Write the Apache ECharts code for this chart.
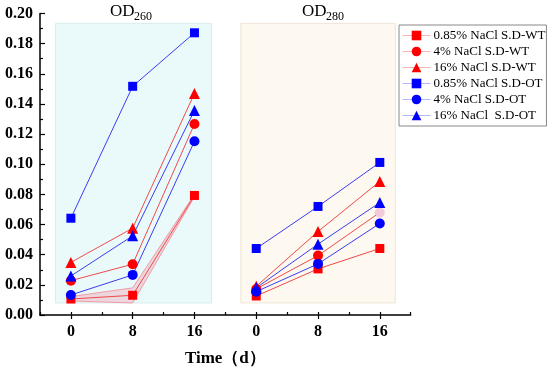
<!DOCTYPE html>
<html><head><meta charset="utf-8">
<script src="https://cdn.jsdelivr.net/npm/echarts@6/dist/echarts.min.js"></script>
<style>html,body{margin:0;padding:0;background:#fff}#c{width:550px;height:367px}</style>
</head><body><div id="c"></div>
<script>
const days = [0, 8, 16];
const panelOffset = 24; // OD280 panel drawn after OD260 on the same time axis
const seriesNames = ['0.85% NaCl S.D-WT', '4% NaCl S.D-WT', '16% NaCl S.D-WT',
  '0.85% NaCl S.D-OT', '4% NaCl S.D-OT', '16% NaCl  S.D-OT'];
// OD260
const od260_wt085 = [0.0106, 0.0131, 0.0793];
const od260_wt4 = [0.0228, 0.0337, 0.1267];
const od260_wt16 = [0.0349, 0.0576, 0.1470];
const od260_ot085 = [0.0642, 0.1517, 0.1872];
const od260_ot4 = [0.0133, 0.0266, 0.1152];
const od260_ot16 = [0.0259, 0.0525, 0.1357];
const od260_bandLow = [0.0093, 0.0080, 0.0785];
const od260_bandHigh = [0.0122, 0.0180, 0.0800];
// OD280
const od280_wt085 = [0.0126, 0.0306, 0.0441];
const od280_wt4 = [0.0173, 0.0394, 0.0680];
const od280_wt16 = [0.0190, 0.0554, 0.0886];
const od280_ot085 = [0.0441, 0.0720, 0.1012];
const od280_ot4 = [0.0155, 0.0339, 0.0607];
const od280_ot16 = [0.0180, 0.0470, 0.0746];
const yTicks = [0, 0.02, 0.04, 0.06, 0.08, 0.10, 0.12, 0.14, 0.16, 0.18, 0.20];

const RED = '#ff0000', BLUE = '#0000ff';
const REDLINE = '#f04a4a', BLUELINE = '#3c3cf0';
const symbols = ['rect', 'circle', 'triangle'];
const symSizes = [9, 10, 11];
const od260 = [od260_wt085, od260_wt4, od260_wt16, od260_ot085, od260_ot4, od260_ot16];
const od280 = [od280_wt085, od280_wt4, od280_wt16, od280_ot085, od280_ot4, od280_ot16];

const SERIF = '"Liberation Serif","Times New Roman",serif';

function pts(vals, off) { return vals.map((v, i) => [days[i] + off, v]); }

const series = [];
// background panels
series.push({
  type: 'line', data: [], silent: true,
  markArea: {
    silent: true,
    label: { show: false },
    data: [
      [{ xAxis: -2.0, yAxis: 0.008, itemStyle: { color: '#eafafb', borderColor: '#d8ecee', borderWidth: 1 } }, { xAxis: 18.2, yAxis: 0.1934 }],
      [{ xAxis: 22.0, yAxis: 0.008, itemStyle: { color: '#fdf8f0', borderColor: '#eee6d8', borderWidth: 1 } }, { xAxis: 42.0, yAxis: 0.1934 }]
    ]
  }
});
// error band for 0.85% WT in OD260
series.push({
  type: 'custom', silent: true, z: 2,
  data: days.map((d, i) => [d, od260_bandLow[i], od260_bandHigh[i]]),
  renderItem: function (params, api) {
    if (params.dataIndex !== 0) return null;
    const upper = days.map((d, i) => api.coord([d, od260_bandHigh[i]]));
    const lower = days.map((d, i) => api.coord([d, od260_bandLow[i]])).reverse();
    return {
      type: 'polygon',
      shape: { points: upper.concat(lower) },
      style: { fill: 'rgba(240,150,170,0.35)', stroke: '#f29aa6', lineWidth: 1 }
    };
  },
  encode: { x: 0, y: [1, 2] }
});
for (let k = 0; k < 6; k++) {
  const isRed = k < 3;
  const base = {
    type: 'line', name: seriesNames[k],
    symbol: symbols[k % 3], symbolSize: symSizes[k % 3],
    itemStyle: { color: isRed ? RED : BLUE },
    lineStyle: { color: isRed ? REDLINE : BLUELINE, width: 1 },
    z: 3
  };
  series.push(Object.assign({}, base, { data: pts(od260[k], 0) }));
  const d2 = pts(od280[k], panelOffset);
  if (k === 1) {
    d2[2] = { value: d2[2], itemStyle: { color: '#f3c9dc' } };
  }
  series.push(Object.assign({}, base, { data: d2 }));
}

const chart = echarts.init(document.getElementById('c'), null, { renderer: 'canvas' });
chart.setOption({
  animation: false,
  backgroundColor: '#fff',
  grid: { left: 40, right: 139.3, top: 13.5, bottom: 52, containLabel: false, outerBoundsMode: 'none' },
  xAxis: [{
    type: 'value', min: -4, max: 44, interval: 4, position: 'bottom',
    axisLine: { onZero: false, lineStyle: { color: '#000', width: 1.5 } },
    axisTick: { inside: true, length: 3, lineStyle: { color: '#000', width: 1.2 } },
    axisLabel: { show: false },
    splitLine: { show: false },
    name: 'Time（d）', nameLocation: 'middle', nameGap: 35,
    nameTextStyle: { fontFamily: SERIF, fontWeight: 'bold', fontSize: 17, color: '#000' }
  }, {
    type: 'value', min: -4, max: 44, interval: 4, position: 'bottom', offset: 0,
    axisLine: { show: false, onZero: false },
    axisTick: { show: true, inside: false, length: 4, lineStyle: { color: '#000', width: 1.2 },
      customValues: [0, 8, 16, 24, 32, 40] },
    axisLabel: {
      margin: 9, fontFamily: SERIF, fontWeight: 'bold', fontSize: 16, color: '#000',
      customValues: [0, 8, 16, 24, 32, 40],
      formatter: v => String(v >= panelOffset ? v - panelOffset : v)
    },
    splitLine: { show: false }
  }],
  yAxis: {
    type: 'value', min: 0, max: 0.2, interval: 0.02,
    axisLine: { show: true, onZero: false, lineStyle: { color: '#000', width: 1.5 } },
    axisTick: { show: true, inside: true, length: 5, lineStyle: { color: '#000', width: 1.2 } },
    minorTick: { show: true, splitNumber: 2, length: 3, lineStyle: { color: '#000', width: 1.2 } },
    axisLabel: {
      margin: 7, fontFamily: SERIF, fontWeight: 'bold', fontSize: 16, color: '#000',
      customValues: yTicks,
      formatter: v => v.toFixed(2)
    },
    splitLine: { show: false }
  },
  legend: {
    orient: 'vertical', left: 399, top: 25,
    padding: [4, 1, 4, 3],
    itemGap: 3, itemWidth: 28, itemHeight: 12,
    backgroundColor: '#fff', borderColor: '#888', borderWidth: 1,
    textStyle: { fontFamily: SERIF, fontSize: 13, color: '#000', padding: [0, 0, 0, -2] },
    data: seriesNames.map((n, k) => ({
      name: n,
      itemStyle: { color: k < 3 ? RED : BLUE },
      lineStyle: { color: k < 3 ? '#f6b4b4' : '#b4b8f6', width: 1 }
    }))
  },
  graphic: [
    { type: 'text', left: 110, top: 3, style: { text: 'OD', font: '17px ' + SERIF, fill: '#000' } },
    { type: 'text', left: 134, top: 11, style: { text: '260', font: '12px ' + SERIF, fill: '#000' } },
    { type: 'text', left: 302, top: 3, style: { text: 'OD', font: '17px ' + SERIF, fill: '#000' } },
    { type: 'text', left: 326, top: 11, style: { text: '280', font: '12px ' + SERIF, fill: '#000' } }
  ],
  series: series
});
</script></body></html>
